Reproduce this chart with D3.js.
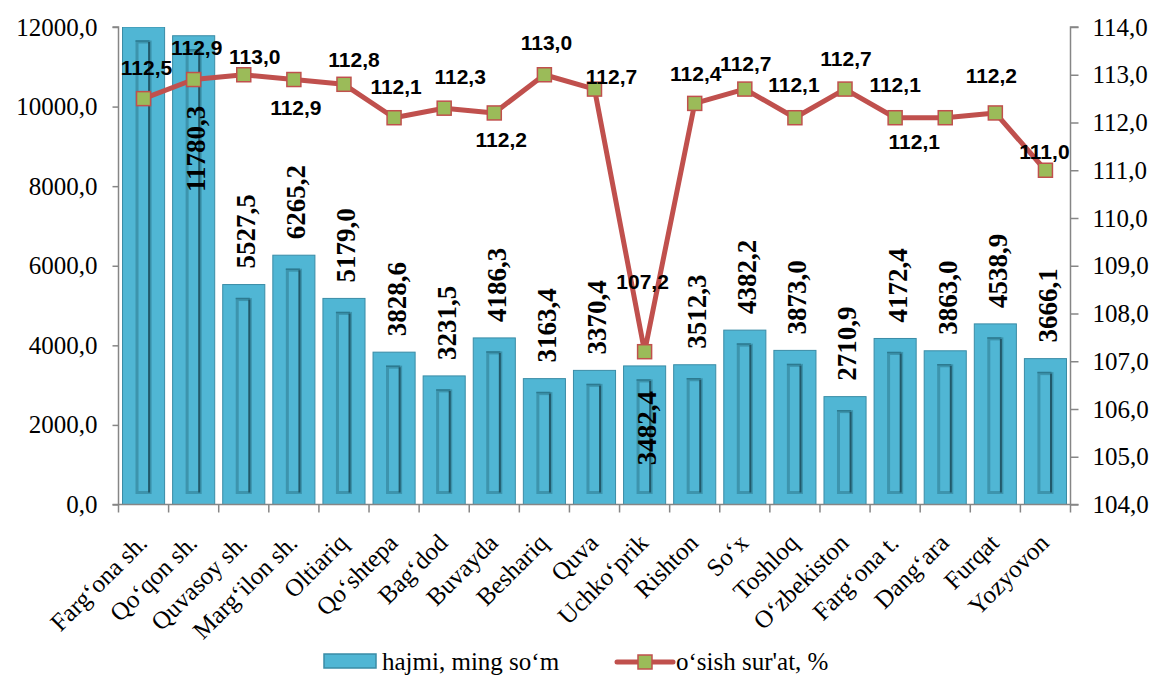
<!DOCTYPE html>
<html>
<head>
<meta charset="utf-8">
<script src="https://cdn.jsdelivr.net/npm/d3@7"></script>
<style>
  body { margin: 0; background: #fff; }
  svg { display: block; }
</style>
</head>
<body>
<svg width="1154" height="677"></svg>
<script>
// hududlar
const categories = ["Farg‘ona sh.", "Qo‘qon sh.", "Quvasoy sh.", "Marg‘ilon sh.", "Oltiariq", "Qo‘shtepa",
  "Bag‘dod", "Buvayda", "Beshariq", "Quva", "Uchko‘prik", "Rishton", "So‘x", "Toshloq",
  "O‘zbekiston", "Farg‘ona t.", "Dang‘ara", "Furqat", "Yozyovon"];

// hajmi, ming so'm (birinchi ustun o'qdan chiqib ketgan, qiymati taxminiy)
const hajmi = [14500, 11780.3, 5527.5, 6265.2, 5179.0, 3828.6, 3231.5, 4186.3, 3163.4, 3370.4,
  3482.4, 3512.3, 4382.2, 3873.0, 2710.9, 4172.4, 3863.0, 4538.9, 3666.1];

// o'sish sur'ati, %
const osish = [112.5, 112.9, 113.0, 112.9, 112.8, 112.1, 112.3, 112.2, 113.0, 112.7,
  107.2, 112.4, 112.7, 112.1, 112.7, 112.1, 112.1, 112.2, 111.0];

const leftTicks = [0, 2000, 4000, 6000, 8000, 10000, 12000];
const rightTicks = [104, 105, 106, 107, 108, 109, 110, 111, 112, 113, 114];

// yorliqlar joylashuvi (nuqtaga nisbatan siljish)
const lineLabelShift = [[3,-31],[3,-32],[11,-18],[2,28],[10,-25],[2,-31],[16,-32],[7,26],[2,-32],[17,-13],
  [-2,-70],[1,-30],[1,-26],[-1,-33],[1,-31],[0,-33],[-31,24],[-4,-38],[-1,-19]];
const insideLabel = {1: 70, 10: 25}; // ustun ichidagi yorliqlar

const svg = d3.select("svg");
const pL = 118.5, pR = 1070.5, pT = 27, pB = 504.5;
const fSerif = "Liberation Serif";
const fSans = "Liberation Sans";
const fmt = v => d3.format(".1f")(v).replace(".", ",");

const barColor = "#50b6d4", barEdge = "#3a8ca6";
const lineColor = "#c0504d", markColor = "#9bbb59";
const axisColor = "#868686";

const x = d3.scaleBand().domain(categories).range([pL, pR]).paddingInner(0.16).paddingOuter(0.08);
const y = d3.scaleLinear().domain([0, 12000]).range([pB, pT]);
const y2 = d3.scaleLinear().domain([104, 114]).range([pB, pT]);
const bw = x.bandwidth();
const barTop = d => Math.max(y(d), pT);

svg.append("clipPath").attr("id", "plot")
  .append("rect").attr("x", pL).attr("y", pT).attr("width", pR - pL).attr("height", pB - pT);

// ustunlar
const bars = svg.append("g").attr("clip-path", "url(#plot)")
  .selectAll("g").data(hajmi).join("g");

bars.append("rect")
  .attr("x", (d, i) => x(categories[i]))
  .attr("y", d => barTop(d))
  .attr("width", bw)
  .attr("height", d => pB - barTop(d))
  .attr("fill", barColor)
  .attr("stroke", barEdge).attr("stroke-width", 1);

bars.append("rect")
  .attr("x", (d, i) => x(categories[i]) + 14.5)
  .attr("y", d => barTop(d) + 15)
  .attr("width", bw - 29)
  .attr("height", d => pB - 12 - (barTop(d) + 15))
  .attr("fill", "none")
  .attr("stroke", "#3d94ad").attr("stroke-width", 3);

bars.append("line")
  .attr("x1", (d, i) => x(categories[i]) + bw - 15.5)
  .attr("x2", (d, i) => x(categories[i]) + bw - 15.5)
  .attr("y1", d => barTop(d) + 15)
  .attr("y2", pB - 12)
  .attr("stroke", "#22596a").attr("stroke-width", 2);

bars.append("line")
  .attr("x1", (d, i) => x(categories[i]) + 13)
  .attr("x2", (d, i) => x(categories[i]) + bw - 15)
  .attr("y1", d => barTop(d) + 14)
  .attr("y2", d => barTop(d) + 14)
  .attr("stroke", "#2d7a90").attr("stroke-width", 1.5);

// o'qlar
const gl = svg.append("g").attr("transform", `translate(${pL},0)`)
  .call(d3.axisLeft(y).tickValues(leftTicks).tickSize(6).tickPadding(15).tickFormat(fmt));

const gr = svg.append("g").attr("transform", `translate(${pR},0)`)
  .call(d3.axisRight(y2).tickValues(rightTicks).tickSize(8).tickPadding(14).tickFormat(fmt));

[gl, gr].forEach(g => {
  g.attr("font-family", fSerif).attr("font-size", 25);
  g.selectAll("path, line").attr("stroke", axisColor).attr("stroke-width", 1.5);
  g.selectAll("text").attr("fill", "#000");
});
gl.select(".domain").attr("d", `M-6,${pT}H0V${pB}H-6`);
gr.select(".domain").attr("d", `M8,${pT}H0V${pB}H8`);

const gb = svg.append("g").attr("transform", `translate(0,${pB})`)
  .call(d3.axisBottom(x).tickSize(0).tickFormat(""));
gb.select(".domain").attr("d", `M${pL},0H${pR}`).attr("stroke", axisColor).attr("stroke-width", 1.5);
gb.selectAll(".tick").remove();
const bounds = categories.map(c => x(c) - x.step() * x.paddingInner() / 2).concat([pR]);
gb.selectAll("line.bt").data(bounds).join("line")
  .attr("class", "bt")
  .attr("x1", d => d).attr("x2", d => d)
  .attr("y1", 0).attr("y2", 8)
  .attr("stroke", axisColor).attr("stroke-width", 1.5);

svg.append("g").selectAll("text").data(categories).join("text")
  .attr("transform", d => `translate(${x(d) + bw / 2 + 5},${pB + 40}) rotate(-45)`)
  .attr("text-anchor", "end")
  .attr("font-family", fSerif).attr("font-size", 25)
  .text(d => d);

// ustun yorliqlari
svg.append("g").selectAll("text").data(hajmi.map((v, i) => ({v, i})).filter(d => d.v <= 12000)).join("text")
  .attr("transform", d => {
    const cx = x(categories[d.i]) + bw / 2 + 2;
    const yy = insideLabel[d.i] !== undefined ? y(d.v) + insideLabel[d.i] : y(d.v) - 16;
    return `translate(${cx},${yy}) rotate(-90)`;
  })
  .attr("text-anchor", d => insideLabel[d.i] !== undefined ? "end" : "start")
  .attr("dy", "0.35em")
  .attr("font-family", fSerif).attr("font-size", 27).attr("font-weight", "bold")
  .text(d => fmt(d.v));

// chiziq
const cx = i => x(categories[i]) + bw / 2;
svg.append("path")
  .datum(osish)
  .attr("d", d3.line().x((d, i) => cx(i)).y(d => y2(d)))
  .attr("fill", "none").attr("stroke", lineColor).attr("stroke-width", 5)
  .attr("stroke-linejoin", "round");

svg.append("g").selectAll("rect").data(osish).join("rect")
  .attr("x", (d, i) => cx(i) - 7).attr("y", d => y2(d) - 7)
  .attr("width", 14).attr("height", 14)
  .attr("fill", markColor).attr("stroke", lineColor).attr("stroke-width", 1.5);

svg.append("g").selectAll("text").data(osish).join("text")
  .attr("x", (d, i) => cx(i) + lineLabelShift[i][0])
  .attr("y", (d, i) => y2(d) + lineLabelShift[i][1])
  .attr("text-anchor", "middle").attr("dy", "0.36em")
  .attr("font-family", fSans).attr("font-size", 21).attr("font-weight", "bold")
  .text(d => fmt(d));

// legenda
const leg = svg.append("g");
leg.append("rect").attr("x", 324).attr("y", 654).attr("width", 52).attr("height", 14)
  .attr("fill", barColor).attr("stroke", barEdge).attr("stroke-width", 1.5);
leg.append("text").attr("x", 382).attr("y", 670)
  .attr("font-family", fSerif).attr("font-size", 25).text("hajmi, ming so‘m");
leg.append("line").attr("x1", 617).attr("x2", 673).attr("y1", 662).attr("y2", 662)
  .attr("stroke", lineColor).attr("stroke-width", 5).attr("stroke-linecap", "round");
leg.append("rect").attr("x", 638).attr("y", 655).attr("width", 14).attr("height", 14)
  .attr("fill", markColor).attr("stroke", lineColor).attr("stroke-width", 1.5);
leg.append("text").attr("x", 676).attr("y", 670)
  .attr("font-family", fSerif).attr("font-size", 25).text("o‘sish sur'at, %");
</script>
</body>
</html>
